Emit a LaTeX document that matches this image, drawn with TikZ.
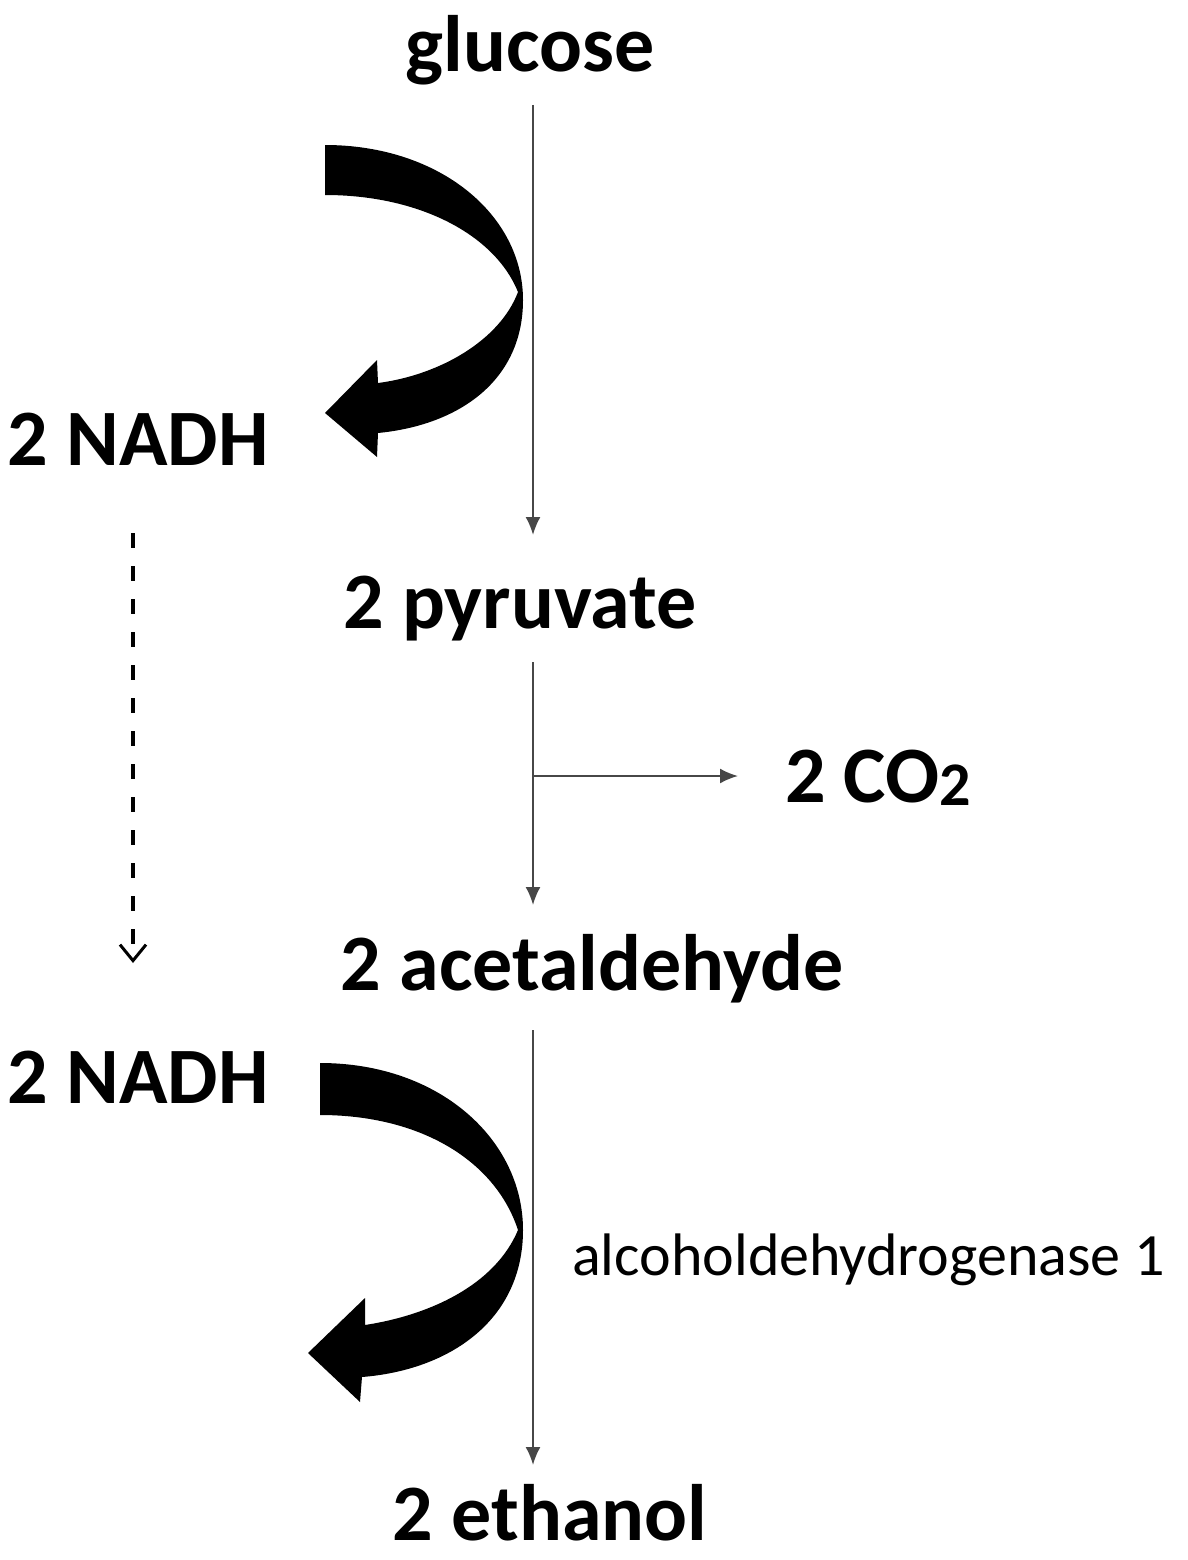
\documentclass[tikz,border=0pt]{standalone}
\usepackage{fontspec}
\setmainfont{Carlito}
\usetikzlibrary{arrows.meta}
\begin{document}
\begin{tikzpicture}[x=1pt,y=-1pt,
  lbl/.style={inner sep=0pt, outer sep=0pt, text height=56pt, text depth=16pt,
    font=\fontsize{80}{96}\selectfont\bfseries},
  enz/.style={inner sep=0pt, font=\fontsize{60}{72}\selectfont},
  flow/.style={draw=black!72, line width=2pt, -{Latex[length=18pt,width=15pt]}},
  carry/.style={draw=black, line width=3.5pt, dash pattern=on 15pt off 18pt,
    -{Straight Barb[length=16pt,width=26pt,line width=3pt]}},
  bigarrow/.style={fill=black, draw=none}]
\useasboundingbox (0,0) rectangle (1187,1560);
\coordinate (axis) at (533,0);
% labels
\node[lbl, anchor=base] (glucose) at (530,72) {glucose};
\node[lbl, anchor=base] (pyr) at (520,628) {2 pyruvate};
\node[lbl, anchor=base west] (co2) at (785,802) {2 CO\raisebox{-3pt}{\fontsize{62}{70}\selectfont 2}};
\node[lbl, anchor=base] (acet) at (592,990) {2 acetaldehyde};
\node[lbl, anchor=base, text depth=0pt] (eth) at (550,1540) {2 ethanol};
\node[lbl, anchor=base west] (nadh1) at (8,465) {2 NADH};
\node[lbl, anchor=base west] (nadh2) at (8,1103) {2 NADH};
\node[enz, anchor=base west] (adh) at (572,1275) {alcoholdehydrogenase 1};
% main pathway
\draw[flow, shorten <=17pt, shorten >=37pt] (axis |- glucose.south) -- (axis |- pyr.north);
\draw[flow, shorten <=18pt, shorten >=29pt] (axis |- pyr.south) -- (axis |- acet.north);
\coordinate (br) at (533,776);
\draw[flow, shorten >=47pt] (br) -- (br -| co2.west);
\draw[flow, shorten <=24pt, shorten >=19pt] (axis |- acet.south) -- (axis |- eth.north);
% NADH carried
\draw[carry, shorten <=52pt, shorten >=84pt] (nadh1.south -| 133,0) -- (nadh2.north -| 133,0);
% curved block arrows
\fill[bigarrow] (325,145) .. controls (440,145) and (523,215) .. (523,300)
  .. controls (523,380) and (460,425) .. (378,433) -- (377,457) -- (325,413) -- (377,360) -- (378,383)
  .. controls (440,375) and (500,340) .. (518,292)
  .. controls (495,235) and (420,195) .. (325,195) -- cycle;
\fill[bigarrow] (320,1063) .. controls (440,1063) and (523,1140) .. (523,1230)
  .. controls (523,1320) and (450,1370) .. (362,1377) -- (360,1402) -- (308,1353) -- (365,1298) -- (365,1325)
  .. controls (430,1315) and (495,1285) .. (518,1230)
  .. controls (495,1160) and (420,1115) .. (320,1115) -- cycle;
\end{tikzpicture}
\end{document}
